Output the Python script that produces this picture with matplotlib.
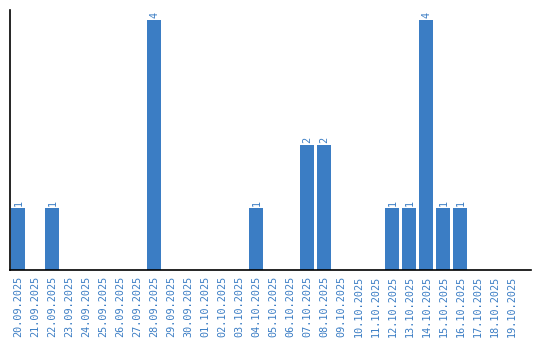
import matplotlib
matplotlib.use("Agg")
import matplotlib.pyplot as plt

# dates and counts
dates = ["20.09.2025", "21.09.2025", "22.09.2025", "23.09.2025", "24.09.2025",
         "25.09.2025", "26.09.2025", "27.09.2025", "28.09.2025", "29.09.2025",
         "30.09.2025", "01.10.2025", "02.10.2025", "03.10.2025", "04.10.2025",
         "05.10.2025", "06.10.2025", "07.10.2025", "08.10.2025", "09.10.2025",
         "10.10.2025", "11.10.2025", "12.10.2025", "13.10.2025", "14.10.2025",
         "15.10.2025", "16.10.2025", "17.10.2025", "18.10.2025", "19.10.2025"]
counts = [1, 0, 1, 0, 0, 0, 0, 0, 4, 0,
          0, 0, 0, 0, 1, 0, 0, 2, 2, 0,
          0, 0, 1, 1, 4, 1, 1, 0, 0, 0]

blue = "#3b7dc4"
font = "DejaVu Sans Mono"

fig = plt.figure(figsize=(5.4, 3.4), dpi=100)
ax = fig.add_axes([10/540, 70/340, 521/540, 260/340])

x = list(range(len(dates)))
bars = ax.bar(x, counts, width=14/17, color=blue)

for xi, c in zip(x, counts):
    if c > 0:
        ax.text(xi, c + 0.03, str(c), rotation=90, ha="center", va="bottom",
                color=blue, fontsize=7.3, family=font)

ax.set_xlim(-0.5, 30.15)
ax.set_ylim(0, 4.16)
ax.set_xticks(x)
ax.set_xticklabels(dates, rotation=90, color=blue, fontsize=7.3, family=font)
ax.tick_params(axis="x", length=0, pad=4)
ax.set_yticks([])
for s in ["top", "right"]:
    ax.spines[s].set_visible(False)
ax.spines["left"].set_linewidth(1.2)
ax.spines["bottom"].set_linewidth(1.2)

fig.savefig("out.png", dpi=100)
